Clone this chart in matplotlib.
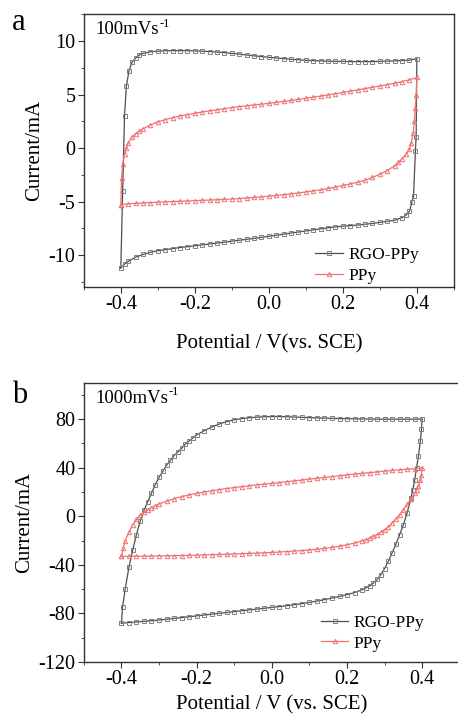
import matplotlib.pyplot as plt
from matplotlib.ticker import MultipleLocator

plt.rcParams['font.family'] = ['Liberation Serif', 'DejaVu Serif']
plt.rcParams['axes.unicode_minus'] = False

# ---- panel a: 100 mV/s ----
a_rgo_v = [-0.400, -0.395, -0.390, -0.385, -0.378, -0.370, -0.360, -0.350, -0.340, -0.320,
           -0.300, -0.280, -0.260, -0.240, -0.220, -0.200, -0.180, -0.160, -0.140, -0.120,
           -0.100, -0.080, -0.060, -0.040, -0.020, 0.000, 0.020, 0.040, 0.060, 0.080,
           0.100, 0.120, 0.140, 0.160, 0.180, 0.200, 0.220, 0.240, 0.260, 0.280,
           0.300, 0.320, 0.340, 0.360, 0.380, 0.400,
           0.398, 0.396, 0.391, 0.387, 0.380, 0.370, 0.360, 0.340, 0.320, 0.300,
           0.280, 0.260, 0.240, 0.220, 0.200, 0.180, 0.160, 0.140, 0.120, 0.100,
           0.080, 0.060, 0.040, 0.020, 0.000, -0.020, -0.040, -0.060, -0.080, -0.100,
           -0.120, -0.140, -0.160, -0.180, -0.200, -0.220, -0.240, -0.260, -0.280, -0.300,
           -0.320, -0.340, -0.360, -0.380, -0.390, -0.400]
a_rgo_i = [-11.2, -4.0, 3.0, 5.8, 7.2, 8.0, 8.4, 8.7, 8.85, 9.0,
           9.05, 9.1, 9.1, 9.1, 9.1, 9.08, 9.05, 9.02, 8.97, 8.92,
           8.85, 8.78, 8.7, 8.62, 8.55, 8.48, 8.42, 8.36, 8.3, 8.25,
           8.2, 8.17, 8.15, 8.12, 8.1, 8.1, 8.08, 8.08, 8.08, 8.08,
           8.1, 8.12, 8.15, 8.18, 8.22, 8.35,
           1.0, -0.3, -4.5, -5.0, -5.9, -6.3, -6.5, -6.75, -6.85, -6.95,
           -7.05, -7.12, -7.2, -7.25, -7.3, -7.38, -7.45, -7.55, -7.65, -7.75,
           -7.85, -7.95, -8.05, -8.15, -8.25, -8.35, -8.45, -8.53, -8.62, -8.7,
           -8.8, -8.88, -8.97, -9.05, -9.13, -9.22, -9.3, -9.4, -9.5, -9.6,
           -9.75, -9.95, -10.2, -10.6, -10.85, -11.2]

a_ppy_v = [-0.400, -0.398, -0.395, -0.390, -0.385, -0.380, -0.370, -0.360, -0.350, -0.340,
           -0.320, -0.300, -0.280, -0.260, -0.240, -0.220, -0.200, -0.180, -0.160, -0.140,
           -0.120, -0.100, -0.080, -0.060, -0.040, -0.020, 0.000, 0.020, 0.040, 0.060,
           0.080, 0.100, 0.120, 0.140, 0.160, 0.180, 0.200, 0.220, 0.240, 0.260,
           0.280, 0.300, 0.320, 0.340, 0.360, 0.380, 0.400,
           0.398, 0.396, 0.393, 0.390, 0.385, 0.380, 0.370, 0.360, 0.350, 0.340,
           0.320, 0.300, 0.280, 0.260, 0.240, 0.220, 0.200, 0.180, 0.160, 0.140,
           0.120, 0.100, 0.080, 0.060, 0.040, 0.020, 0.000, -0.020, -0.040, -0.060,
           -0.080, -0.100, -0.120, -0.140, -0.160, -0.180, -0.200, -0.220, -0.240, -0.260,
           -0.280, -0.300, -0.320, -0.340, -0.360, -0.380, -0.400]
a_ppy_i = [-5.3, -2.8, -1.5, -0.6, 0.0, 0.5, 1.0, 1.35, 1.6, 1.8,
           2.15, 2.45, 2.65, 2.85, 3.0, 3.12, 3.25, 3.37, 3.48, 3.58,
           3.68, 3.78, 3.87, 3.95, 4.03, 4.1, 4.18, 4.27, 4.36, 4.45,
           4.55, 4.65, 4.75, 4.86, 4.97, 5.08, 5.2, 5.32, 5.44, 5.56,
           5.68, 5.8, 5.93, 6.06, 6.2, 6.38, 6.6,
           5.0, 3.7, 2.5, 1.4, 0.5, -0.1, -0.6, -1.0, -1.35, -1.65,
           -2.1, -2.45, -2.75, -3.0, -3.2, -3.35, -3.5, -3.65, -3.78, -3.9,
           -4.0, -4.1, -4.2, -4.28, -4.36, -4.43, -4.5, -4.56, -4.62, -4.67,
           -4.72, -4.76, -4.8, -4.83, -4.86, -4.89, -4.92, -4.95, -4.98, -5.0,
           -5.03, -5.06, -5.1, -5.13, -5.17, -5.22, -5.3]

# ---- panel b: 1000 mV/s ----
b_rgo_v = [-0.400, -0.397, -0.390, -0.380, -0.370, -0.360, -0.350, -0.340, -0.330, -0.320,
           -0.310, -0.300, -0.290, -0.280, -0.270, -0.260, -0.250, -0.240, -0.230, -0.220,
           -0.210, -0.200, -0.180, -0.160, -0.140, -0.120, -0.100, -0.080, -0.060, -0.040,
           -0.020, 0.000, 0.020, 0.040, 0.060, 0.080, 0.100, 0.120, 0.140, 0.160,
           0.180, 0.200, 0.220, 0.240, 0.260, 0.280, 0.300, 0.320, 0.340, 0.360,
           0.380, 0.400,
           0.398, 0.395, 0.390, 0.385, 0.380, 0.375, 0.370, 0.360, 0.350, 0.340,
           0.330, 0.320, 0.310, 0.300, 0.290, 0.280, 0.270, 0.260, 0.250, 0.240,
           0.220, 0.200, 0.180, 0.160, 0.140, 0.120, 0.100, 0.080, 0.060, 0.040,
           0.020, 0.000, -0.020, -0.040, -0.060, -0.080, -0.100, -0.120, -0.140, -0.160,
           -0.180, -0.200, -0.220, -0.240, -0.260, -0.280, -0.300, -0.320, -0.340, -0.360,
           -0.380, -0.400]
b_rgo_i = [-88, -75, -60, -42, -28, -15, -4, 5, 12, 19,
           26, 32, 37, 42, 46, 50, 53, 56, 59.5, 62,
           64.5, 67, 70.5, 73.5, 76, 78, 79.5, 80.5, 81.2, 81.7,
           82.0, 82.2, 82.2, 82.0, 81.8, 81.5, 81.3, 81.1, 80.9, 80.7,
           80.5, 80.4, 80.3, 80.2, 80.1, 80.0, 80.0, 80.0, 80.0, 80.0,
           80.0, 80.2,
           72, 62, 50, 40, 30, 22, 15, 3, -7, -15,
           -23, -30, -37, -43, -48, -52, -55, -57.5, -59, -60.5,
           -62.8, -64.5, -66, -67.3, -68.6, -69.8, -70.9, -71.9, -72.8, -73.6,
           -74.3, -75.0, -75.7, -76.4, -77.1, -77.8, -78.5, -79.2, -79.9, -80.6,
           -81.3, -82.0, -82.7, -83.4, -84.1, -84.8, -85.4, -86.0, -86.5, -87.0,
           -87.5, -88]

b_ppy_v = [-0.400, -0.395, -0.390, -0.380, -0.370, -0.360, -0.350, -0.340, -0.330, -0.320,
           -0.310, -0.300, -0.280, -0.260, -0.240, -0.220, -0.200, -0.180, -0.160, -0.140,
           -0.120, -0.100, -0.080, -0.060, -0.040, -0.020, 0.000, 0.020, 0.040, 0.060,
           0.080, 0.100, 0.120, 0.140, 0.160, 0.180, 0.200, 0.220, 0.240, 0.260,
           0.280, 0.300, 0.320, 0.340, 0.360, 0.380, 0.400,
           0.398, 0.395, 0.390, 0.385, 0.380, 0.370, 0.360, 0.350, 0.340, 0.330,
           0.320, 0.310, 0.300, 0.290, 0.280, 0.270, 0.260, 0.250, 0.240, 0.220,
           0.200, 0.180, 0.160, 0.140, 0.120, 0.100, 0.080, 0.060, 0.040, 0.020,
           0.000, -0.020, -0.040, -0.060, -0.080, -0.100, -0.120, -0.140, -0.160, -0.180,
           -0.200, -0.220, -0.240, -0.260, -0.280, -0.300, -0.320, -0.340, -0.360, -0.380,
           -0.400]
b_ppy_i = [-33, -26, -20, -13, -7, -2.5, 1, 3.5, 5.5, 7.2,
           8.8, 10.2, 12.5, 14.5, 16.2, 17.6, 18.9, 20.0, 21.0, 22.0,
           22.9, 23.7, 24.5, 25.2, 25.9, 26.5, 27.1, 27.8, 28.5, 29.2,
           29.9, 30.6, 31.3, 32.0, 32.7, 33.4, 34.1, 34.8, 35.4, 36.0,
           36.6, 37.2, 37.8, 38.3, 38.8, 39.3, 39.8,
           34, 30, 25, 22, 19, 14, 10, 5.5, 1.5, -2,
           -5.5, -8.5, -11, -13, -15, -16.5, -18, -19.2, -20.2, -22,
           -23.4, -24.6, -25.6, -26.4, -27.1, -27.7, -28.2, -28.6, -29.0, -29.4,
           -29.7, -30.0, -30.3, -30.5, -30.8, -31.0, -31.2, -31.4, -31.6, -31.8,
           -32.0, -32.1, -32.3, -32.4, -32.5, -32.6, -32.7, -32.8, -32.9, -33.0,
           -33]

series_names = ["RGO-PPy", "PPy"]
rates = ["100mVs", "1000mVs"]
rate_exp = "-1"
xlabels = ["Potential / V(vs. SCE)", "Potential / V (vs. SCE)"]

grey = "#4d4d4d"
red = "#f07272"

fig = plt.figure(figsize=(4.58, 7.16), dpi=100)
ax_a = fig.add_axes([0.183, 0.599, 0.808, 0.381])
ax_b = fig.add_axes([0.183, 0.0754, 0.821, 0.390])

panels = [
    (ax_a, a_rgo_v, a_rgo_i, a_ppy_v, a_ppy_i, (-13, 12.5), 5, 2.5, 14, 0.0),
    (ax_b, b_rgo_v, b_rgo_i, b_ppy_v, b_ppy_i, (-120, 110), 40, 20, 4, 0.025),
]

rate_texts = []
for k, (ax, rv, ri, pv, pi, ylim, ymaj, ymin, lpad, leg_y) in enumerate(panels):
    ax.plot(rv, ri, color=grey, lw=0.9, marker="s", ms=3.2, mfc="none",
            mec="#808080", mew=0.7, label=series_names[0])
    ax.plot(pv, pi, color=red, lw=0.9, marker="^", ms=3.2, mfc="none",
            mec=red, mew=0.7, label=series_names[1])
    ax.set_xlim(-0.5, 0.5)
    ax.set_ylim(*ylim)
    ax.xaxis.set_major_locator(MultipleLocator(0.2))
    ax.xaxis.set_minor_locator(MultipleLocator(0.1))
    ax.yaxis.set_major_locator(MultipleLocator(ymaj))
    ax.yaxis.set_minor_locator(MultipleLocator(ymin))
    ax.set_xticks([-0.4, -0.2, 0.0, 0.2, 0.4])
    ax.tick_params(which="both", direction="out", top=False, right=False,
                   labelsize=14.5, color="#333333", pad=2)
    ax.tick_params(which="major", length=4)
    ax.tick_params(which="minor", length=2.5)
    for s in ax.spines.values():
        s.set_color("#333333")
        s.set_linewidth(1.0)
    ax.set_xlabel(xlabels[k], fontsize=15, labelpad=lpad)
    ax.set_ylabel("Current/mA", fontsize=15, labelpad=3)
    t = ax.text(0.03, 0.975, rates[k], transform=ax.transAxes, fontsize=13.5,
                va="top", ha="left")
    rate_texts.append(t)
    ax.legend(loc="lower right", frameon=False, fontsize=12.5, handlelength=1.6,
              handletextpad=0.3, labelspacing=0.25, borderaxespad=0.0,
              borderpad=0.2, bbox_to_anchor=(0.915, leg_y))

# superscript "-1" right after the scan-rate text
fig.canvas.draw()
renderer = fig.canvas.get_renderer()
for t in rate_texts:
    bb = t.get_window_extent(renderer)
    x1, y1 = fig.transFigure.inverted().transform((bb.x1, bb.y1))
    fig.text(x1 + 0.002, y1 + 0.005, rate_exp, fontsize=9, va="top", ha="left")

fig.text(0.04, 0.968, "a", fontsize=22, va="center", ha="center")
fig.text(0.042, 0.447, "b", fontsize=22, va="center", ha="center")

fig.savefig("out.png", dpi=100)
